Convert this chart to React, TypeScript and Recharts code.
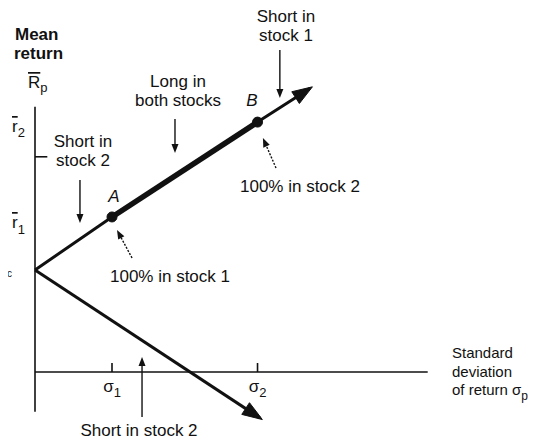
import React from 'react';
import { LineChart, Line, XAxis, YAxis, ReferenceLine } from 'recharts';

// ---- data (sigma = std dev of return, ret = mean return) ----
const frontierSigma = [0, 1, 2.89, 3.57];
const frontierReturn = [1, 1.52, 2.45, 2.78];
const longSigma = [1, 2.89];
const longReturn = [1.52, 2.45];
const shortSigma = [0, 2.92];
const shortReturn = [1, -0.45];
const sigmaTicks = [1, 2.89];
const sigmaTickLabels = ['1', '2'];
const returnTicks = [2.11];

// pointer arrows (data coords)
const pointerX1 = [0.584, 1.818, 3.18, 3.13, 1.26, 1.39];
const pointerY1 = [1.882, 2.48, 3.157, 2.0, 1.118, -0.441];
const pointerX2 = [0.584, 1.818, 3.18, 2.96, 1.065, 1.39];
const pointerY2 = [1.461, 2.147, 2.686, 2.294, 1.392, 0.147];
const pointerDashed = [false, false, false, true, true, false];

const X_DOMAIN: [number, number] = [-0.4, 6.6];
const Y_DOMAIN: [number, number] = [-0.6, 3.6];

const frontier = frontierSigma.map((x, i) => ({ x, y: frontierReturn[i] }));
const longPart = longSigma.map((x, i) => ({ x, y: longReturn[i] }));
const shortPart = shortSigma.map((x, i) => ({ x, y: shortReturn[i] }));

const FONT = '"Liberation Sans", Arial, Helvetica, sans-serif';
const INK = '#111';

function headPath(x1: number, y1: number, x2: number, y2: number, len: number, half: number, ext: number) {
  const dx = x2 - x1, dy = y2 - y1;
  const d = Math.hypot(dx, dy) || 1;
  const ux = dx / d, uy = dy / d;
  const tx = x2 + ux * ext, ty = y2 + uy * ext;
  const bx = tx - ux * len, by = ty - uy * len;
  const px = -uy, py = ux;
  return `M${tx},${ty} L${bx + px * half},${by + py * half} L${bx - px * half},${by - py * half} Z`;
}

const bigHead = (props: any) => {
  const { x1, y1, x2, y2 } = props;
  return <path d={headPath(x1, y1, x2, y2, 20, 7, 3)} fill={INK} stroke={INK} strokeWidth={1} />;
};

const makePointer = (dashed: boolean) => (props: any) => {
  const { x1, y1, x2, y2 } = props;
  const dx = x2 - x1, dy = y2 - y1;
  const d = Math.hypot(dx, dy) || 1;
  const ex = x2 - (dx / d) * 6, ey = y2 - (dy / d) * 6;
  return (
    <g>
      <line x1={x1} y1={y1} x2={ex} y2={ey} stroke={INK} strokeWidth={1.4}
        strokeDasharray={dashed ? '2 1.5' : undefined} />
      <path d={headPath(x1, y1, x2, y2, 9, 3.5, 0)} fill={INK} />
    </g>
  );
};

const tickLine = (props: any) => {
  const { x1, y1, x2, y2 } = props;
  return <line x1={x1} y1={y1} x2={x2} y2={y2} stroke={INK} strokeWidth={1.6} />;
};

const T = (p: any) => (
  <text x={p.x} y={p.y} textAnchor={p.anchor || 'middle'} fontFamily={FONT} fontSize={p.size || 17}
    fontWeight={p.bold ? 'bold' : 'normal'} fontStyle={p.italic ? 'italic' : 'normal'} fill={INK}>
    {p.children}
  </text>
);

const Texts = () => (
  <g>
    <T x={15} y={40} anchor="start" bold>Mean</T>
    <T x={14} y={59} anchor="start" bold>return</T>
    <text x={28} y={88} fontFamily={FONT} fontSize={17} fill={INK}>
      <tspan style={{ textDecoration: 'overline' }}>R</tspan>
      <tspan fontSize={13} dy={4}>p</tspan>
    </text>
    <text x={12} y={132} fontFamily={FONT} fontSize={17} fill={INK}>
      <tspan style={{ textDecoration: 'overline' }}>r</tspan>
      <tspan fontSize={13} dy={5}>2</tspan>
    </text>
    <text x={12} y={228} fontFamily={FONT} fontSize={17} fill={INK}>
      <tspan style={{ textDecoration: 'overline' }}>r</tspan>
      <tspan fontSize={13} dy={6}>1</tspan>
    </text>
    <T x={7} y={277} anchor="start" size={10}>c</T>
    <T x={83} y={147}>Short in</T>
    <T x={83} y={166}>stock 2</T>
    <T x={178} y={87}>Long in</T>
    <T x={178} y={106}>both stocks</T>
    <T x={114} y={202} italic>A</T>
    <T x={252} y={106} italic>B</T>
    <T x={286} y={22}>Short in</T>
    <T x={286} y={41}>stock 1</T>
    <T x={300} y={192}>100% in stock 2</T>
    <T x={170} y={282}>100% in stock 1</T>
    <T x={139} y={436}>Short in stock 2</T>
    <T x={452} y={358} anchor="start" size={15}>Standard</T>
    <T x={452} y={377} anchor="start" size={15}>deviation</T>
    <text x={452} y={395} fontFamily={FONT} fontSize={15} fill={INK}>
      of return σ<tspan fontSize={12} dy={5}>p</tspan>
    </text>
  </g>
);

export default function App() {
  return (
    <div style={{ margin: '-8px 0 0 -8px', width: 544, height: 441, background: '#fff' }}>
      <LineChart width={544} height={441} margin={{ top: 4.8, right: 0.8, bottom: 7.8, left: 4.2 }}>
        <XAxis type="number" dataKey="x" domain={X_DOMAIN} hide allowDataOverflow />
        <YAxis type="number" dataKey="y" domain={Y_DOMAIN} hide allowDataOverflow />
        {/* axes */}
        <ReferenceLine segment={[{ x: 0, y: -0.39 }, { x: 0, y: 2.6 }]} shape={tickLine} />
        <ReferenceLine segment={[{ x: 0, y: 0 }, { x: 5.1, y: 0 }]} shape={tickLine} />
        {sigmaTicks.map((s, i) => (
          <ReferenceLine key={'sx' + i} segment={[{ x: s, y: 0 }, { x: s, y: 0.088 }]} shape={tickLine}
            label={(p: any) => {
              const vb = p.viewBox || {};
              return (
                <text x={vb.x} y={392} textAnchor="middle" fontFamily={FONT} fontSize={17} fill={INK}>
                  σ<tspan fontSize={13} dy={5}>{sigmaTickLabels[i]}</tspan>
                </text>
              );
            }} />
        ))}
        {returnTicks.map((r, i) => (
          <ReferenceLine key={'ry' + i} segment={[{ x: 0, y: r }, { x: 0.16, y: r }]} shape={tickLine} />
        ))}
        {/* series */}
        <Line data={frontier} dataKey="y" stroke={INK} strokeWidth={3} dot={false} isAnimationActive={false} />
        <Line data={longPart} dataKey="y" stroke={INK} strokeWidth={5.5}
          dot={{ r: 5, fill: INK, stroke: INK, strokeWidth: 1 }} isAnimationActive={false} />
        <Line data={shortPart} dataKey="y" stroke={INK} strokeWidth={3} dot={false} isAnimationActive={false} />
        <ReferenceLine segment={[{ x: frontierSigma[2], y: frontierReturn[2] }, { x: frontierSigma[3], y: frontierReturn[3] }]} shape={bigHead} />
        <ReferenceLine segment={[{ x: shortSigma[0], y: shortReturn[0] }, { x: shortSigma[1], y: shortReturn[1] }]} shape={bigHead} />
        {/* pointers */}
        {pointerX1.map((x, i) => (
          <ReferenceLine key={'p' + i}
            segment={[{ x, y: pointerY1[i] }, { x: pointerX2[i], y: pointerY2[i] }]}
            shape={makePointer(pointerDashed[i])} />
        ))}
        <Texts />
      </LineChart>
    </div>
  );
}
